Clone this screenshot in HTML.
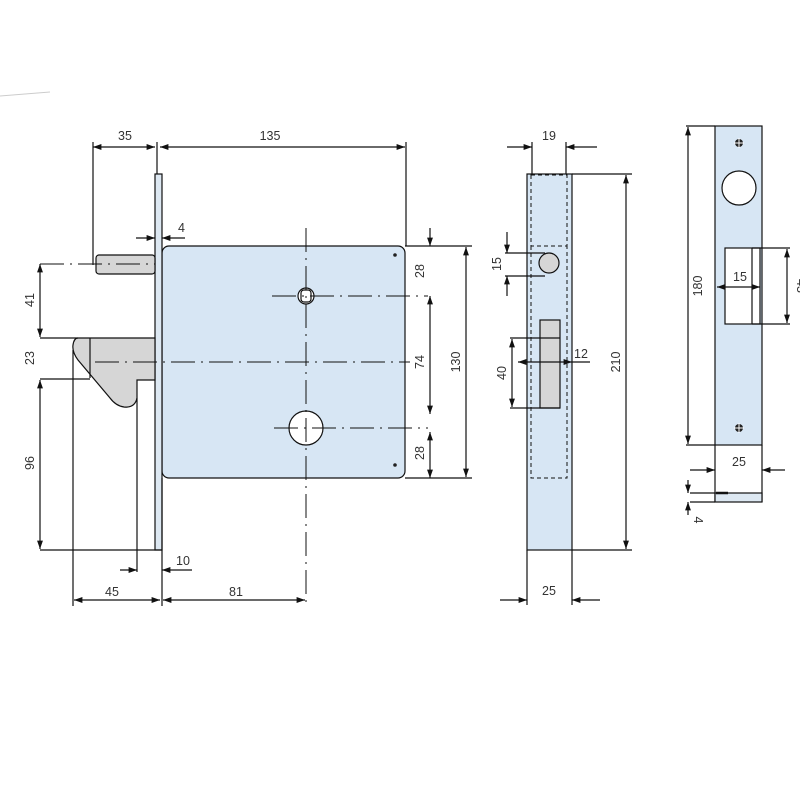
<!DOCTYPE html>
<html><head><meta charset="utf-8"><style>
html,body{margin:0;padding:0;background:#fff;}
svg{display:block}
text{font-family:"Liberation Sans",sans-serif;font-size:12.5px;fill:#333}
</style></head><body>
<svg width="800" height="800" viewBox="0 0 800 800" xmlns="http://www.w3.org/2000/svg">
<defs>
<marker id="a" viewBox="0 0 10 10" refX="10" refY="5" markerWidth="7" markerHeight="7" orient="auto-start-reverse"><path d="M0,1.5 L10,5 L0,8.5z" fill="#111"/></marker>
</defs>
<line x1="0" y1="96" x2="50" y2="92" stroke="#ccc" stroke-width="1"/>
<g stroke="#111" stroke-width="1.2" fill="none">
<rect x="162" y="246" width="243" height="232" rx="7" fill="#d7e6f4"/>
<rect x="155" y="174" width="7" height="376" fill="#dde8f2"/>
<rect x="96" y="255" width="59" height="19" rx="3" fill="#d6d6d6"/>
<path d="M78,338 L155,338 L155,380 L137,380 L137,398 Q135,408 124,407 Q116,406 110,398 L78,360 Q72,352 73,345 Q74,338 78,338z" fill="#d6d6d6"/>
<line x1="90" y1="338" x2="90" y2="378"/>
<line x1="40" y1="338" x2="78" y2="338"/>
<line x1="40" y1="379" x2="90" y2="379"/>
<line x1="73" y1="350" x2="73" y2="606"/>
<line x1="137" y1="398" x2="137" y2="572"/>
<line x1="40" y1="550" x2="162" y2="550"/>
<line x1="93" y1="142" x2="93" y2="265"/>
<line x1="157" y1="142" x2="157" y2="174"/>
<line x1="162" y1="478" x2="162" y2="606"/>
<line x1="406" y1="142" x2="406" y2="246"/>
<line x1="405" y1="246" x2="472" y2="246"/>
<line x1="405" y1="478" x2="472" y2="478"/>
<line x1="93" y1="147" x2="155" y2="147" marker-start="url(#a)" marker-end="url(#a)"/>
<line x1="160" y1="147" x2="405" y2="147" marker-start="url(#a)" marker-end="url(#a)"/>
<line x1="40" y1="264" x2="40" y2="337" marker-start="url(#a)" marker-end="url(#a)"/>
<line x1="40" y1="380" x2="40" y2="549" marker-start="url(#a)" marker-end="url(#a)"/>
<line x1="136" y1="238" x2="155" y2="238" marker-end="url(#a)"/>
<line x1="185" y1="238" x2="162" y2="238" marker-end="url(#a)"/>
<line x1="120" y1="570" x2="137" y2="570" marker-end="url(#a)"/>
<line x1="192" y1="570" x2="162" y2="570" marker-end="url(#a)"/>
<line x1="74" y1="600" x2="160" y2="600" marker-start="url(#a)" marker-end="url(#a)"/>
<line x1="163" y1="600" x2="305" y2="600" marker-start="url(#a)" marker-end="url(#a)"/>
<line x1="430" y1="228" x2="430" y2="246" marker-end="url(#a)"/>
<line x1="430" y1="296" x2="430" y2="414" marker-start="url(#a)" marker-end="url(#a)"/>
<line x1="430" y1="432" x2="430" y2="478" marker-start="url(#a)" marker-end="url(#a)"/>
<line x1="466" y1="247" x2="466" y2="477" marker-start="url(#a)" marker-end="url(#a)"/>
<circle cx="306" cy="296" r="8" fill="#fff"/>
<rect x="301" y="290" width="10" height="12" rx="3" fill="#fff"/>
<circle cx="306" cy="428" r="17" fill="#fff"/>
<g stroke-dasharray="24,6,2,6" stroke-width="1">
<line x1="306" y1="228" x2="306" y2="605"/>
<line x1="40" y1="264" x2="155" y2="264"/>
<line x1="272" y1="296" x2="428" y2="296"/>
<line x1="95" y1="362" x2="410" y2="362"/>
<line x1="274" y1="428" x2="428" y2="428"/>
</g>
<rect x="527" y="174" width="45" height="376" fill="#d7e6f4"/>
<line x1="532" y1="142" x2="532" y2="174"/>
<line x1="566" y1="142" x2="566" y2="174"/>
<line x1="527" y1="550" x2="527" y2="605"/>
<line x1="572" y1="550" x2="572" y2="605"/>
<line x1="572" y1="174" x2="632" y2="174"/>
<line x1="572" y1="550" x2="632" y2="550"/>
<g stroke-dasharray="4,3" stroke-width="1">
<rect x="531" y="175" width="36" height="71"/>
<path d="M531,246 L531,478 L567,478 L567,246"/>
</g>
<rect x="540" y="320" width="20" height="88" fill="#d6d6d6"/>
<circle cx="549" cy="263" r="10" fill="#d6d6d6"/>
<line x1="505" y1="253" x2="545" y2="253"/>
<line x1="505" y1="276" x2="545" y2="276"/>
<line x1="510" y1="338" x2="560" y2="338"/>
<line x1="510" y1="408" x2="560" y2="408"/>
<line x1="507" y1="232" x2="507" y2="253" marker-end="url(#a)"/>
<line x1="507" y1="296" x2="507" y2="276" marker-end="url(#a)"/>
<line x1="512" y1="339" x2="512" y2="407" marker-start="url(#a)" marker-end="url(#a)"/>
<line x1="507" y1="147" x2="532" y2="147" marker-end="url(#a)"/>
<line x1="597" y1="147" x2="566" y2="147" marker-end="url(#a)"/>
<line x1="518" y1="362" x2="572" y2="362" marker-start="url(#a)" marker-end="url(#a)"/>
<line x1="572" y1="362" x2="590" y2="362"/>
<line x1="626" y1="175" x2="626" y2="549" marker-start="url(#a)" marker-end="url(#a)"/>
<line x1="500" y1="600" x2="527" y2="600" marker-end="url(#a)"/>
<line x1="600" y1="600" x2="572" y2="600" marker-end="url(#a)"/>
<rect x="715" y="126" width="47" height="319" fill="#d7e6f4"/>
<circle cx="739" cy="188" r="17" fill="#fff"/>
<rect x="725" y="248" width="35" height="76" fill="#fff"/>
<line x1="752" y1="248" x2="752" y2="324"/>
<line x1="752" y1="248" x2="790" y2="248"/>
<line x1="752" y1="324" x2="790" y2="324"/>
<line x1="787" y1="249" x2="787" y2="323" marker-start="url(#a)" marker-end="url(#a)"/>
<line x1="717" y1="287" x2="760" y2="287" marker-start="url(#a)" marker-end="url(#a)"/>
<line x1="686" y1="126" x2="715" y2="126"/>
<line x1="686" y1="445" x2="715" y2="445"/>
<line x1="688" y1="127" x2="688" y2="444" marker-start="url(#a)" marker-end="url(#a)"/>
<line x1="715" y1="445" x2="715" y2="502"/>
<line x1="762" y1="445" x2="762" y2="502"/>
<line x1="690" y1="470" x2="715" y2="470" marker-end="url(#a)"/>
<line x1="785" y1="470" x2="762" y2="470" marker-end="url(#a)"/>
<rect x="715" y="493" width="47" height="9" fill="#dde8f2"/>
<line x1="690" y1="493" x2="715" y2="493"/>
<line x1="690" y1="502" x2="715" y2="502"/>
<line x1="716" y1="493" x2="728" y2="493" stroke-width="2.5"/>
<line x1="688" y1="480" x2="688" y2="493" marker-end="url(#a)"/>
<line x1="688" y1="515" x2="688" y2="502" marker-end="url(#a)"/>
</g>
<g fill="#222">
<circle cx="395" cy="255" r="1.8"/><circle cx="395" cy="465" r="1.8"/>
<circle cx="739" cy="143" r="4"/><circle cx="739" cy="428" r="4"/>
</g>
<g stroke="#fff" stroke-width="1"><line x1="734" y1="143" x2="744" y2="143"/><line x1="739" y1="138" x2="739" y2="148"/><line x1="734" y1="428" x2="744" y2="428"/><line x1="739" y1="423" x2="739" y2="433"/></g>
<text x="125" y="140" text-anchor="middle">35</text>
<text x="270" y="140" text-anchor="middle">135</text>
<text x="178" y="232">4</text>
<text x="176" y="565">10</text>
<text x="112" y="596" text-anchor="middle">45</text>
<text x="236" y="596" text-anchor="middle">81</text>
<text transform="translate(34,300) rotate(-90)" text-anchor="middle">41</text>
<text transform="translate(34,358) rotate(-90)" text-anchor="middle">23</text>
<text transform="translate(34,463) rotate(-90)" text-anchor="middle">96</text>
<text transform="translate(424,271) rotate(-90)" text-anchor="middle">28</text>
<text transform="translate(424,362) rotate(-90)" text-anchor="middle">74</text>
<text transform="translate(424,453) rotate(-90)" text-anchor="middle">28</text>
<text transform="translate(460,362) rotate(-90)" text-anchor="middle">130</text>
<text x="549" y="140" text-anchor="middle">19</text>
<text transform="translate(501,264) rotate(-90)" text-anchor="middle">15</text>
<text transform="translate(506,373) rotate(-90)" text-anchor="middle">40</text>
<text x="574" y="358">12</text>
<text transform="translate(620,362) rotate(-90)" text-anchor="middle">210</text>
<text x="549" y="595" text-anchor="middle">25</text>
<text transform="translate(702,286) rotate(-90)" text-anchor="middle">180</text>
<text x="740" y="281" text-anchor="middle">15</text>
<text transform="translate(797,286) rotate(90)" text-anchor="middle">43</text>
<text x="739" y="466" text-anchor="middle">25</text>
<text transform="translate(694,520) rotate(90)" text-anchor="middle">4</text>
</svg>
</body></html>
